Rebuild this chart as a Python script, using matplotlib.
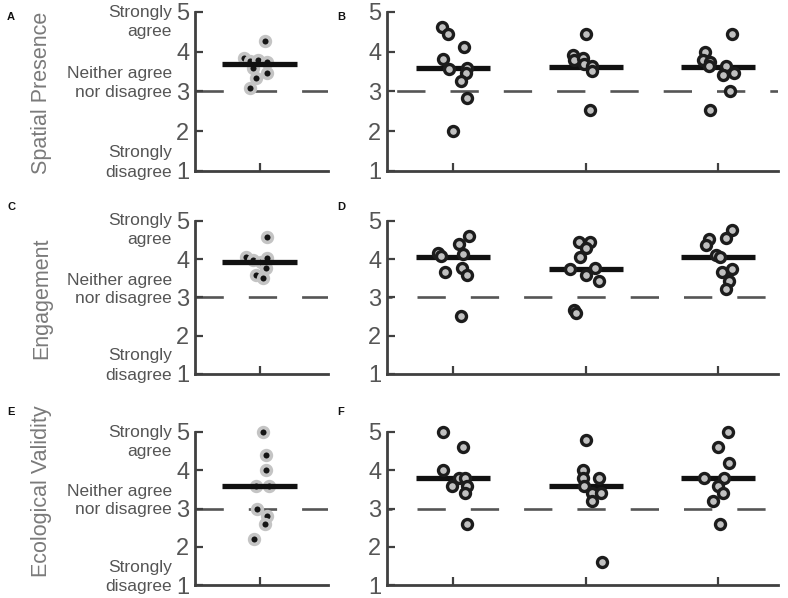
import numpy as np
import matplotlib
matplotlib.use("Agg")
import matplotlib.pyplot as plt
from matplotlib.transforms import blended_transform_factory

plt.rcParams['font.family'] = ['Liberation Sans', 'DejaVu Sans']

# ---------------- data ----------------
row_titles = ["Spatial Presence", "Engagement", "Ecological Validity"]
left_letters = ["A", "C", "E"]
right_letters = ["B", "D", "F"]
yticks = [1, 2, 3, 4, 5]
neutral = 3

# left panels (single condition): values and horizontal jitter
A_vals = [4.28, 3.84, 3.77, 3.79, 3.73, 3.33, 3.46, 3.10, 3.60]
A_jit = [0.04, -0.12, -0.07, -0.01, 0.06, -0.03, 0.06, -0.07, -0.05]
A_line = 3.69

C_vals = [4.58, 4.06, 3.97, 3.93, 4.02, 3.76, 3.58, 3.50]
C_jit = [0.06, -0.10, -0.05, 0.01, 0.06, 0.05, -0.03, 0.03]
C_line = 3.92

E_vals = [5.0, 4.4, 4.0, 3.6, 3.6, 3.0, 2.8, 2.6, 2.2]
E_jit = [0.03, 0.05, 0.05, -0.03, 0.075, -0.02, 0.055, 0.04, -0.04]
E_line = 3.6

# right panels (three conditions)
B_vals = [[4.63, 4.44, 4.11, 3.81, 3.57, 3.60, 3.47, 3.26, 2.84, 2.01],
          [4.44, 3.92, 3.80, 3.85, 3.70, 3.65, 3.52, 2.53],
          [4.44, 4.00, 3.80, 3.73, 3.65, 3.63, 3.42, 3.47, 3.01, 2.53]]
B_jit = [[-0.083, -0.04, 0.08, -0.075, -0.033, 0.105, 0.093, 0.055, 0.105, 0.0],
         [0.0, -0.096, -0.088, -0.02, -0.013, 0.05, 0.045, 0.03],
         [0.10, -0.10, -0.113, -0.063, -0.07, 0.055, 0.038, 0.12, 0.088, -0.063]]
B_lines = [3.58, 3.62, 3.62]

D_vals = [[4.61, 4.38, 4.15, 4.08, 4.13, 3.67, 3.76, 3.58, 2.51],
          [4.45, 4.45, 4.28, 4.06, 3.74, 3.76, 3.58, 3.43, 2.67, 2.58],
          [4.76, 4.54, 4.51, 4.37, 4.10, 4.06, 3.74, 3.67, 3.43, 3.21]]
D_jit = [[0.118, 0.043, -0.116, -0.096, 0.075, -0.063, 0.068, 0.106, 0.055],
         [-0.05, 0.033, 0.0, -0.043, -0.12, 0.07, 0.0, 0.10, -0.088, -0.075],
         [0.10, 0.055, -0.07, -0.096, -0.02, 0.013, 0.106, 0.03, 0.08, 0.055]]
D_lines = [4.06, 3.75, 4.06]

F_vals = [[5.0, 4.6, 4.0, 3.8, 3.8, 3.6, 3.6, 3.4, 2.6],
          [4.8, 4.0, 3.8, 3.8, 3.6, 3.4, 3.4, 3.2, 1.6],
          [5.0, 4.6, 4.2, 3.8, 3.8, 3.6, 3.4, 3.2, 2.6]]
F_jit = [[-0.075, 0.075, -0.075, 0.045, 0.088, -0.013, 0.10, 0.088, 0.10],
         [0.0, -0.025, -0.025, 0.10, -0.013, 0.05, 0.113, 0.043, 0.12],
         [0.07, -0.005, 0.078, -0.106, 0.045, -0.005, 0.033, -0.043, 0.015]]
F_lines = [3.8, 3.6, 3.8]

left_data = [(A_vals, A_jit, A_line), (C_vals, C_jit, C_line), (E_vals, E_jit, E_line)]
right_data = [(B_vals, B_jit, B_lines), (D_vals, D_jit, D_lines), (F_vals, F_jit, F_lines)]

scale_labels = [("Strongly", 5.0), ("agree", 4.5), ("Neither agree", 3.45),
                ("nor disagree", 2.97), ("Strongly", 1.47), ("disagree", 0.96)]

# ---------------- layout / style ----------------
W, H = 788, 598
fig = plt.figure(figsize=(W / 100, H / 100), dpi=100)

rows_px = [(12, 171), (220.7, 374), (432, 585)]
left_px = (195, 328)
right_px = (387, 778)
title_y_px = [93, 298, 491]
letter_y_px = [17, 207, 412]
dash_phase_left = [0, 0, 0]
dash_phase_right = [43.6, 23.3, 23.3]

spine_col = '#404040'
tick_col = '#555555'
dash_col = '#555555'
txt_col = '#555555'
title_col = '#7a7a7a'
half_w = 0.28
dash_lw = 1.9
on_px, off_px = 28.3, 25.0


def style_axes(ax, xt):
    for s in ['top', 'right']:
        ax.spines[s].set_visible(False)
    for s in ['left', 'bottom']:
        ax.spines[s].set_linewidth(2.0)
        ax.spines[s].set_color(spine_col)
    ax.set_ylim(1, 5)
    ax.set_yticks(yticks)
    ax.set_xticks(xt)
    ax.set_xticklabels([])
    ax.tick_params(axis='y', direction='in', length=6, width=1.6, color=spine_col,
                   labelsize=17, labelcolor=tick_col, pad=4)
    ax.tick_params(axis='x', direction='in', length=5.5, width=1.6, color=spine_col)
    ax.patch.set_alpha(0)


def dash_style(phase_px):
    k = 0.72 / dash_lw
    return (phase_px * k, (on_px * k, off_px * k))


for r in range(3):
    top, bot = rows_px[r]
    b = 1 - bot / H
    h = (bot - top) / H
    # ---- left panel ----
    axl = fig.add_axes([left_px[0] / W, b, (left_px[1] - left_px[0]) / W, h])
    vals, jit, line = left_data[r]
    axl.axhline(neutral, color=dash_col, lw=dash_lw, ls=dash_style(dash_phase_left[r]), zorder=1)
    axl.plot(np.array(jit) + 1, vals, 'o', ms=7.0, mfc='#151515', mec='#c4c4c4', mew=2.6,
             zorder=2, clip_on=False)
    axl.hlines(line, 1 - half_w, 1 + half_w, color='#111111', lw=3.8, zorder=3)
    axl.set_xlim(0.515, 1.515)
    style_axes(axl, [1])

    tr = blended_transform_factory(fig.transFigure, axl.transData)
    for txt, yv in scale_labels:
        axl.text(172 / W, yv, txt, transform=tr, ha='right', va='center',
                 fontsize=12.5, color=txt_col, clip_on=False)

    fig.text(42 / W, 1 - title_y_px[r] / H, row_titles[r], rotation=90, ha='center',
             va='center', fontsize=15.5, color=title_col)
    fig.text(11 / W, 1 - letter_y_px[r] / H, left_letters[r], ha='center', va='center',
             fontsize=8, fontweight='bold', color='#111111')

    # ---- right panel ----
    axr = fig.add_axes([right_px[0] / W, b, (right_px[1] - right_px[0]) / W, h])
    vals3, jit3, lines3 = right_data[r]
    axr.axhline(neutral, color=dash_col, lw=dash_lw, ls=dash_style(dash_phase_right[r]), zorder=1)
    for g in range(3):
        axr.hlines(lines3[g], g + 1 - half_w, g + 1 + half_w, color='#111111', lw=3.8, zorder=2)
        axr.plot(np.array(jit3[g]) + g + 1, vals3[g], 'o', ms=7.2, mfc='#c0c0c0',
                 mec='#1c1c1c', mew=2.4, zorder=3, clip_on=False)
    axr.set_xlim(0.5, 3.45)
    style_axes(axr, [1, 2, 3])
    fig.text(341 / W, 1 - letter_y_px[r] / H, right_letters[r], ha='center', va='center',
             fontsize=8, fontweight='bold', color='#111111')

fig.savefig('out.png', dpi=100)
